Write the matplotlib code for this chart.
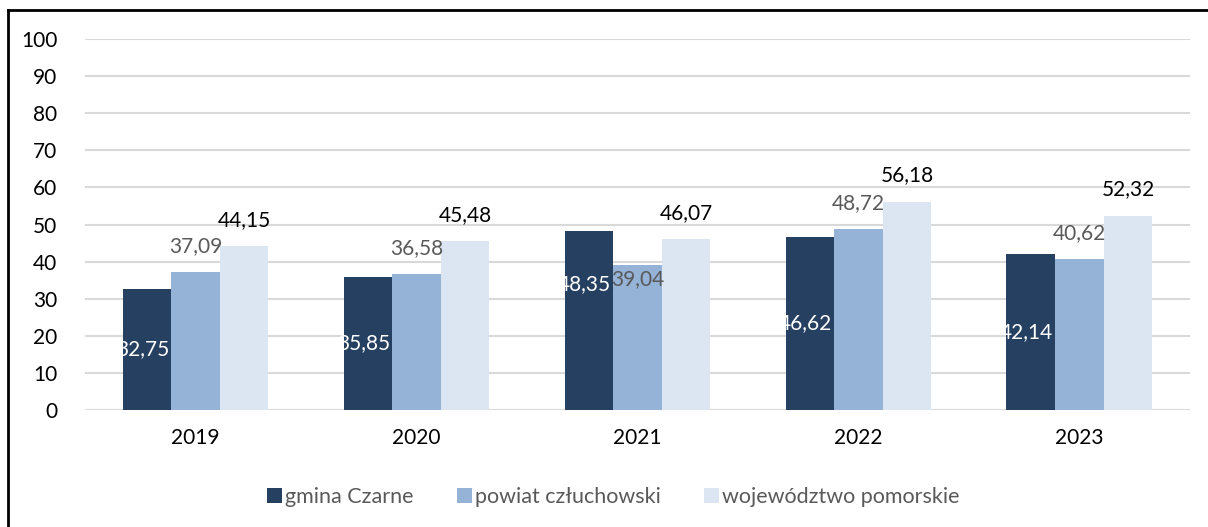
import numpy as np
import matplotlib
matplotlib.use('Agg')
import matplotlib.pyplot as plt
from matplotlib.lines import Line2D

plt.rcParams['font.family'] = ['Lato', 'DejaVu Sans']

# data
years = ['2019', '2020', '2021', '2022', '2023']
gmina = [32.75, 35.85, 48.35, 46.62, 42.14]
powiat = [37.09, 36.58, 39.04, 48.72, 40.62]
wojew = [44.15, 45.48, 46.07, 56.18, 52.32]
series_names = ['gmina Czarne', 'powiat człuchowski', 'województwo pomorskie']

colors = ['#264061', '#95B3D7', '#DCE6F2']
label_colors = ['white', '#595959', 'black']
FS = 15

fig = plt.figure(figsize=(12.08, 5.27), dpi=100)
ax = fig.add_axes([0.0704, 0.222, 0.9146, 0.704])

x = np.arange(len(years))
w = 0.22
all_series = [gmina, powiat, wojew]

for i, vals in enumerate(all_series):
    xs = x + (i - 1) * w
    ax.bar(xs, vals, width=w, color=colors[i], label=series_names[i], zorder=3)
    for j, (xx, v) in enumerate(zip(xs, vals)):
        txt = f'{v:.2f}'.replace('.', ',')
        if i == 0:
            # white labels sit inside the dark bars
            yy = v / 2
            if years[j] == '2021':
                yy = 34
            ax.text(xx - 0.02, yy, txt, color=label_colors[i], fontsize=FS,
                    ha='center', va='center', zorder=4)
        else:
            off = 19
            if i == 1 and years[j] == '2021':
                off = -10
            ax.annotate(txt, (xx, v), xytext=(0, off), textcoords='offset points',
                        color=label_colors[i], fontsize=FS, ha='center', va='center', zorder=4)

ax.set_xlim(-0.5, len(years) - 0.5)
ax.set_ylim(0, 100)
ax.set_yticks(np.arange(0, 101, 10))
ax.set_xticks(x)
ax.set_xticklabels(years)
ax.tick_params(axis='both', length=0, labelsize=FS)
ax.tick_params(axis='y', pad=20)
ax.tick_params(axis='x', pad=13)
ax.yaxis.grid(True, color='#D9D9D9', linewidth=1.5, zorder=0)
ax.set_axisbelow(True)
for s in ax.spines.values():
    s.set_visible(False)

ax.legend(loc='center', bbox_to_anchor=(0.478, -0.235), ncol=3, frameon=False,
          fontsize=FS + 0.5, handlelength=0.7, handleheight=0.7, handletextpad=0.15,
          columnspacing=2.0, labelcolor='#595959')

# outer frame (top and left edge visible)
fig.add_artist(Line2D([8 / 1208, 1.0], [1 - 10 / 527, 1 - 10 / 527], color='black', linewidth=2))
fig.add_artist(Line2D([8 / 1208, 8 / 1208], [0, 1 - 10 / 527], color='black', linewidth=2))

fig.savefig('out.png', dpi=100)
